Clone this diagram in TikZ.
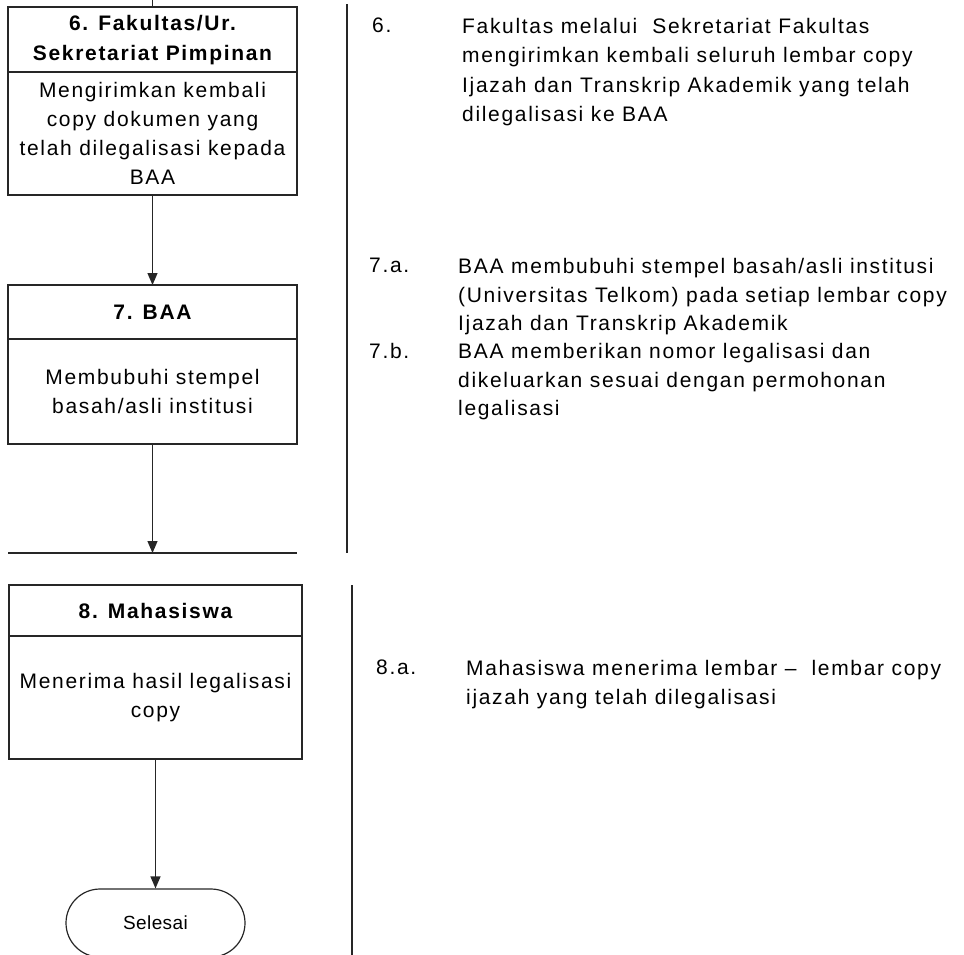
\documentclass[tikz,border=0pt]{standalone}
\usepackage{fontspec}
\setmainfont{Liberation Sans}[LetterSpace=8]
\usetikzlibrary{arrows.meta}
\begin{document}
\begin{tikzpicture}[x=1pt,y=-1pt,
  ln/.style={draw=black!85, line width=1.2pt},
  hdr/.style={ln, anchor=north west, inner sep=0pt, outer sep=0pt, align=center,
    font=\fontsize{21}{30}\selectfont\bfseries},
  bdy/.style={ln, anchor=north west, inner sep=0pt, outer sep=0pt, align=center,
    font=\fontsize{21}{29}\selectfont},
  conn/.style={draw=black!85, line width=1.2pt, -{Triangle[length=12pt,width=10pt]}},
  num/.style={anchor=north west, inner sep=0pt, font=\fontsize{21}{29.5}\selectfont},
  desc/.style={anchor=north west, inner sep=0pt, align=left, font=\fontsize{21}{29.5}\selectfont},
  desct/.style={desc, font=\fontsize{21}{28.7}\selectfont},
  term/.style={ln, rounded corners=34pt, minimum width=179pt, minimum height=68pt,
    inner sep=0pt, font=\fontsize{19}{22}\selectfont\addfontfeature{LetterSpace=2}}]
\useasboundingbox (0,0) rectangle (964,954);
% left column
\coordinate (top) at (152.5,-2);
\node[hdr, minimum width=289pt, minimum height=65pt] (h6) at (8,7) {\rule{0pt}{17pt}6. Fakultas/Ur.\\Sekretariat Pimpinan};
\node[bdy, minimum width=289pt, minimum height=123pt] (b6) at (8,72) {Mengirimkan kembali\\copy dokumen yang\\telah dilegalisasi kepada\\BAA};
\node[hdr, minimum width=289pt, minimum height=54pt] (h7) at (8,285) {7. BAA};
\node[bdy, minimum width=289pt, minimum height=105pt] (b7) at (8,339) {Membubuhi stempel\\basah/asli institusi};
\coordinate (cut) at (152.5,553);
\coordinate (cutl) at (8,553);
\coordinate (cutr) at (297,553);
\node[hdr, minimum width=293pt, minimum height=51pt] (h8) at (9,585) {8. Mahasiswa};
\node[bdy, minimum width=293pt, minimum height=123pt] (b8) at (9,636) {Menerima hasil legalisasi\\copy};
\node[term] (end) at (155.5,923) {Selesai};
\draw[ln] (top) -- (h6.north);
\draw[conn] (b6.south) -- (h7.north);
\draw[conn] (b7.south) -- (cut);
\draw[ln] (cutl) -- (cutr);
\draw[conn] (b8.south) -- (end.north);
% separators
\coordinate (s1t) at (347,4);
\coordinate (s1b) at (347,553);
\coordinate (s2t) at (352,585);
\coordinate (s2b) at (352,960);
\draw[ln] (s1t) -- (s1b);
\draw[ln] (s2t) -- (s2b);
% right column
\node[num] (n6) at (372,18) {6.};
\node[desc] (d6) at (462,18) {Fakultas melalui\ \ Sekretariat Fakultas\\mengirimkan kembali seluruh lembar copy\\Ijazah dan Transkrip Akademik yang telah\\dilegalisasi ke BAA};
\node[num] (n7a) at (369,258) {7.a.};
\node[desct] (d7a) at (458,258) {BAA membubuhi stempel basah/asli institusi\\(Universitas Telkom) pada setiap lembar copy\\Ijazah dan Transkrip Akademik};
\node[num] (n7b) at (369,343) {7.b.};
\node[desct] (d7b) at (458,343) {BAA memberikan nomor legalisasi dan\\dikeluarkan sesuai dengan permohonan\\legalisasi};
\node[num] (n8a) at (376,660) {8.a.};
\node[desc] (d8a) at (466,660) {Mahasiswa menerima lembar --\ \ lembar copy\\ijazah yang telah dilegalisasi};
\end{tikzpicture}
\end{document}
